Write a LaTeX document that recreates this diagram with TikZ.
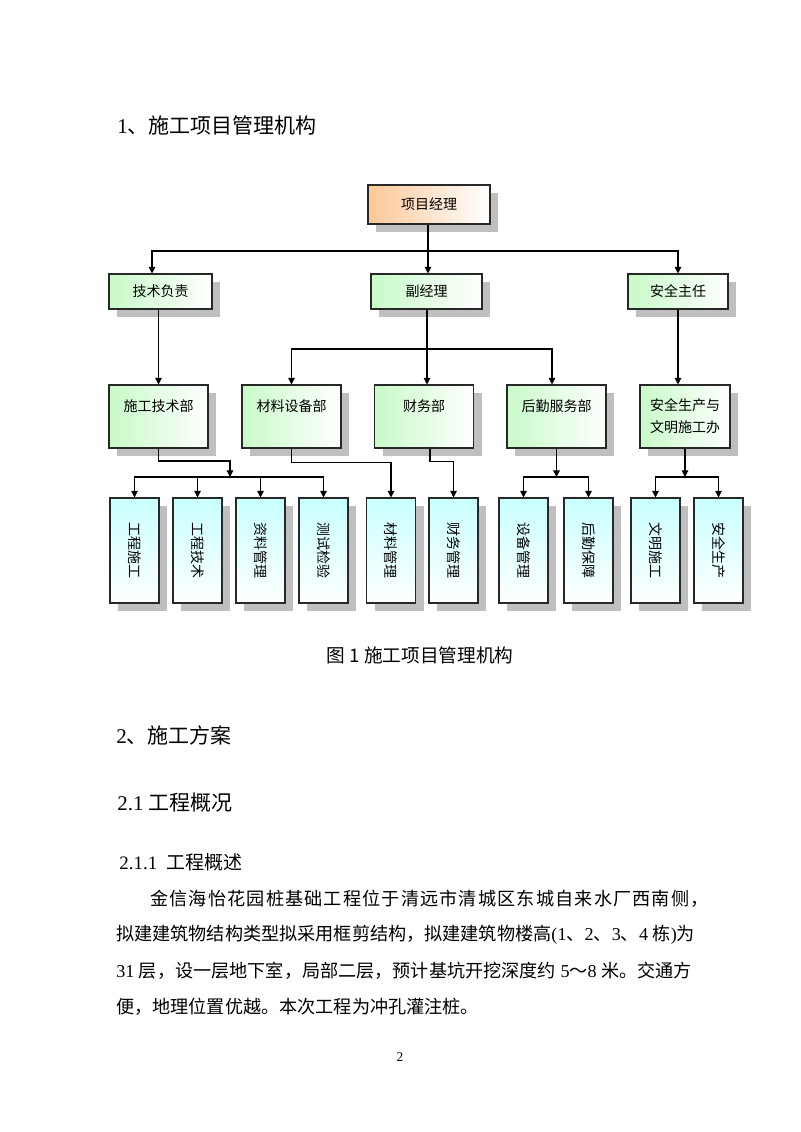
\documentclass[tikz,border=0pt]{standalone}
\usepackage{fontspec}
\setmainfont{Noto Sans CJK SC}
\newfontfamily\lat{Liberation Serif}
\usetikzlibrary{shadows,arrows.meta}
\definecolor{pmorange}{RGB}{253,200,152}
\definecolor{deptgreen}{RGB}{200,250,200}
\definecolor{teamcyan}{RGB}{200,255,255}
\definecolor{boxline}{RGB}{40,40,40}

\begin{document}
\begin{tikzpicture}[x=0.75pt,y=0.75pt,yscale=-1,xscale=1,
    orgbox/.style={draw=boxline, line width=0.8pt, inner sep=2pt, font=\fontsize{10.5}{16.5}\selectfont,
        drop shadow={shadow xshift=6pt, shadow yshift=-6pt, fill=black!25, opacity=1}},
    pmbox/.style={orgbox, left color=pmorange, right color=white, minimum width=91.5pt, minimum height=29.25pt},
    leadbox/.style={orgbox, left color=deptgreen, right color=white, minimum height=26.25pt},
    deptbox/.style={orgbox, left color=deptgreen, right color=white, minimum width=74.25pt, minimum height=47.25pt, align=center},
    teambox/.style={orgbox, top color=teamcyan, bottom color=white, minimum width=36.75pt, minimum height=78.75pt},
    link/.style={line width=0.8pt},
    arr/.style={link, -{Triangle[length=5pt,width=5pt]}},
    heading/.style={font=\fontsize{15.75}{18}\selectfont},
    para/.style={font=\fontsize{13.6}{16}\selectfont}]
        \path[use as bounding box, fill=white] (0,0) rectangle (800,1132);

        \draw (116,125) node (h1) [anchor=west][inner sep=0.75pt] [heading] {{\lat 1}、施工项目管理机构};

        \node[pmbox] (pm) at (429,204.5) {项目经理};
        \node[leadbox, minimum width=77.25pt] (tech) at (160.5,291.5) {技术负责};
        \node[leadbox, minimum width=83.25pt] (deputy) at (426.5,291.5) {副经理};
        \node[leadbox, minimum width=75pt] (safety) at (678,291.5) {安全主任};

        \node[deptbox] (d1) at (158.5,416.5) {施工技术部\\\mbox{}};
        \node[deptbox] (d2) at (291.5,416.5) {材料设备部\\\mbox{}};
        \node[deptbox] (d3) at (424,416.5) {财务部\\\mbox{}};
        \node[deptbox] (d4) at (556.5,416.5) {后勤服务部\\\mbox{}};
        \node[deptbox, minimum width=67.5pt] (d5) at (685,416.5) {安全生产与\\文明施工办};

        \node[teambox] (t1) at (134.5,550.5) {\rotatebox{-90}{工程施工}};
        \node[teambox] (t2) at (197.5,550.5) {\rotatebox{-90}{工程技术}};
        \node[teambox] (t3) at (260.5,550.5) {\rotatebox{-90}{资料管理}};
        \node[teambox] (t4) at (323.5,550.5) {\rotatebox{-90}{测试检验}};
        \node[teambox] (t5) at (391,550.5) {\rotatebox{-90}{材料管理}};
        \node[teambox] (t6) at (453.5,550.5) {\rotatebox{-90}{财务管理}};
        \node[teambox] (t7) at (523.5,550.5) {\rotatebox{-90}{设备管理}};
        \node[teambox] (t8) at (588.5,550.5) {\rotatebox{-90}{后勤保障}};
        \node[teambox] (t9) at (655.5,550.5) {\rotatebox{-90}{文明施工}};
        \node[teambox] (t10) at (718.5,550.5) {\rotatebox{-90}{安全生产}};

        \coordinate (j1) at (428,251);
        \draw[link] (pm.south -| j1) -- (j1);
        \draw[arr] (j1) -| (tech.north -| 152,0);
        \draw[arr] (j1) -- (j1 |- deputy.north);
        \draw[arr] (j1) -| (safety.north);

        \coordinate (j2) at (427,349);
        \draw[arr] (tech.south -| d1.north) -- (d1.north);
        \draw[link] (deputy.south -| j2) -- (j2);
        \draw[arr] (j2) -| (d2.north);
        \draw[arr] (j2) -- (j2 |- d3.north);
        \draw[arr] (j2) -| (d4.north -| 552,0);
        \draw[arr] (safety.south) -- (safety.south |- d5.north);

        \coordinate (k1) at (230,461);
        \coordinate (j3) at (230,477);
        \draw[arr] (d1.south) |- (k1) -- (j3);
        \draw[arr] (j3) -| (t1.north);
        \draw[arr] (j3) -| (t2.north);
        \draw[arr] (j3) -| (t3.north);
        \draw[arr] (j3) -| (t4.north);
        \draw[arr] (d2.south) -- ++(0,14) -| (t5.north);
        \draw[arr] (d3.south -| 430,0) -- ++(0,13) -| (t6.north);
        \coordinate (j4) at (d4.south |- 0,477);
        \draw[arr] (d4.south) -- (j4);
        \draw[arr] (j4) -| (t7.north);
        \draw[arr] (j4) -| (t8.north);
        \coordinate (j5) at (d5.south |- 0,477);
        \draw[arr] (d5.south) -- (j5);
        \draw[arr] (j5) -| (t9.north);
        \draw[arr] (j5) -| (t10.north);

        \draw (420,655) node (cap) [inner sep=0.75pt] [font=\fontsize{14}{16}\selectfont] {图 1 施工项目管理机构};
        \draw (115,735) node (h2) [anchor=west][inner sep=0.75pt] [heading] {{\lat 2}、施工方案};
        \draw (116,803) node (h21) [anchor=west][inner sep=0.75pt] [heading] {{\lat 2.1\ }工程概况};
        \draw (118,862) node (h211) [anchor=west][inner sep=0.75pt] [font=\fontsize{14.25}{16}\selectfont] {{\lat 2.1.1\ \ }工程概述};
        \draw (149,899) node (p1) [anchor=west][inner sep=0.75pt] [para] {\addfontfeature{LetterSpace=6.4}金信海怡花园桩基础工程位于清远市清城区东城自来水厂西南侧，};
        \draw (115,935) node (p2) [anchor=west][inner sep=0.75pt] [para] {拟建建筑物结构类型拟采用框剪结构，拟建建筑物楼高{\lat (1}、{\lat 2}、{\lat 3}、{\lat 4 }栋{\lat )}为};
        \draw (115,971) node (p3) [anchor=west][inner sep=0.75pt] [para] {{\lat 31 }层，设一层地下室，局部二层，预计基坑开挖深度约{\lat\ 5}～{\lat 8 }米。交通方};
        \draw (115,1007) node (p4) [anchor=west][inner sep=0.75pt] [para] {便，地理位置优越。本次工程为冲孔灌注桩。};
        \draw (400,1057) node (pg) [inner sep=0.75pt] [font=\lat\fontsize{10}{12}\selectfont] {2};
\end{tikzpicture}
\end{document}
